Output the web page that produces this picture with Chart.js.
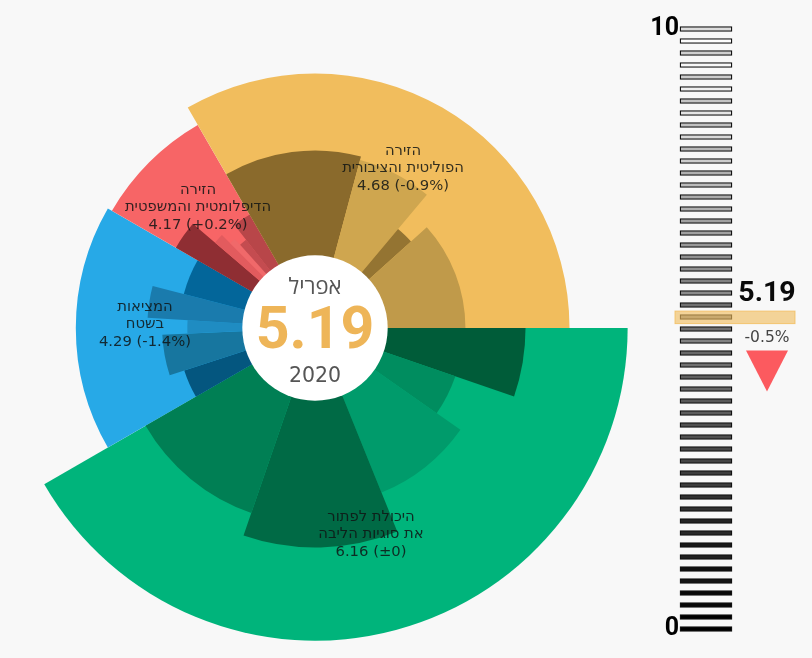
<!DOCTYPE html>
<html lang="he">
<head>
<meta charset="utf-8">
<title>מדד</title>
<script src="https://cdn.jsdelivr.net/npm/chart.js@4"></script>
<style>
  html, body { margin: 0; padding: 0; background: #f8f8f8; }
  canvas { position: absolute; top: 0; }
  #polar { left: 0; }
  #gauge { left: 630px; }
</style>
</head>
<body>
<canvas id="polar" width="630" height="656"></canvas>
<canvas id="gauge" width="182" height="658"></canvas>
<script>
// four arenas, clockwise from 3 o'clock
const arenaValues = [6.16, 4.29, 4.17, 4.68];
const arenaAngles = [150, 60, 30, 120];
const arenaColors = ["#00b47b", "#27a9e7", "#f76566", "#f1bd5d"];
const arenaLabels = [
  ["היכולת לפתור", "את סוגיות הליבה", "6.16 (±0)"],
  ["המציאות", "בשטח", "4.29 (-1.4%)"],
  ["הזירה", "הדיפלומטית והמשפטית", "4.17 (+0.2%)"],
  ["הזירה", "הפוליטית והציבורית", "4.68 (-0.9%)"],
];
const labelSpots = [[371, 517], [145, 307], [198, 190], [403, 151]];

// sub-measures inside each arena, same direction
const partValues = [
  3.56, 1.98, 2.72, 3.79, 3.18,
  1.7, 2.09, 1.45, 2.47, 1.65,
  2.29, 1.55, 1.25, 1.05, 1.53,
  2.72, 2.63, 1.49, 2.03,
];
const partAngles = [
  19, 16, 33, 41, 41,
  12, 15.5, 6, 11, 15.5,
  10.5, 4.5, 3, 4, 8,
  45, 25, 8, 42,
];
const partColors = [
  "#005c39", "#008d5f", "#009b6b", "#006a45", "#007f54",
  "#04567f", "#17769f", "#1f8cc2", "#1a7bad", "#03669a",
  "#8f2e33", "#e25b5e", "#f0696a", "#c44c50", "#b84649",
  "#8a6a2c", "#cfa64f", "#947432", "#c09a4a",
];

const gaugeTicks = [
  10, 9.8, 9.6, 9.4, 9.2, 9, 8.8, 8.6, 8.4, 8.2,
  8, 7.8, 7.6, 7.4, 7.2, 7, 6.8, 6.6, 6.4, 6.2,
  6, 5.8, 5.6, 5.4, 5.2, 5, 4.8, 4.6, 4.4, 4.2,
  4, 3.8, 3.6, 3.4, 3.2, 3, 2.8, 2.6, 2.4, 2.2,
  2, 1.8, 1.6, 1.4, 1.2, 1, 0.8, 0.6, 0.4, 0.2, 0,
];
const gaugeFills = [
  "#dcdcdc", "#fdfdfd", "#cfcfcf", "#f8f8f8", "#cccccc", "#f0f0f0", "#c4c4c4", "#e4e4e4", "#c0c0c0", "#d8d8d8",
  "#b8b8b8", "#cccccc", "#b0b0b0", "#bbbbbb", "#aaaaaa", "#b0b0b0", "#a0a0a0", "#a0a0a0", "#989898", "#909090",
  "#909090", "#808080", "#8a8a8a", "#707070", "#8a8a8a", "#707070", "#808080", "#686868", "#707070", "#606060",
  "#686868", "#585858", "#5c5c5c", "#505050", "#505050", "#484848", "#444444", "#3c3c3c", "#3c3c3c", "#303030",
  "#303030", "#242424", "#282828", "#181818", "#202020", "#101010", "#141414", "#080808", "#080808", "#000000", "#000000",
];

const overall = "5.19";
const overallChange = "-0.5%";
const month = "אפריל";
const year = "2020";

const hebrewFont = '"DejaVu Sans"';

function drawText(ctx, text, x, y, font, color, direction) {
  ctx.font = font;
  ctx.fillStyle = color;
  ctx.direction = direction || "ltr";
  ctx.textAlign = "center";
  ctx.textBaseline = "middle";
  ctx.fillText(text, x, y);
}

const polarOverlay = {
  id: "polarOverlay",
  afterDatasetsDraw(chart) {
    const ctx = chart.ctx;
    const scale = chart.scales.r;
    const cx = scale.xCenter;
    const cy = scale.yCenter;
    const hole = scale.getDistanceFromCenterForValue(0) + 2;

    ctx.save();
    arenaLabels.forEach((lines, i) => {
      lines.forEach((line, j) => {
        const dir = j === lines.length - 1 ? "ltr" : "rtl";
        drawText(ctx, line, labelSpots[i][0], labelSpots[i][1] + j * 17.5, "14.8px " + hebrewFont, "rgba(15,20,20,0.85)", dir);
      });
    });

    ctx.beginPath();
    ctx.arc(cx, cy, hole, 0, Math.PI * 2);
    ctx.fillStyle = "#ffffff";
    ctx.fill();

    drawText(ctx, month, cx, cy - 40, '22px "Open Sans"', "#555555", "rtl");
    drawText(ctx, overall, cx, cy + 5, "bold 59px Roboto", "#eeb558");
    drawText(ctx, year, cx, cy + 49, "20.5px " + hebrewFont, "#555555");
    ctx.restore();
  },
};

new Chart(document.getElementById("polar"), {
  type: "polarArea",
  data: {
    datasets: [
      { data: partValues, angle: (c) => partAngles[c.index], backgroundColor: partColors, borderWidth: 0 },
      { data: arenaValues, angle: (c) => arenaAngles[c.index], backgroundColor: arenaColors, borderWidth: 0 },
    ],
  },
  options: {
    responsive: false,
    animation: false,
    layout: { padding: 0 },
    plugins: { legend: { display: false }, tooltip: { enabled: false } },
    scales: {
      r: {
        min: -1.8,
        max: 6.22,
        startAngle: 90,
        grid: { display: false },
        angleLines: { display: false },
        ticks: { display: false },
        pointLabels: { display: false },
      },
    },
  },
  plugins: [polarOverlay],
});

const gaugeOverlay = {
  id: "gaugeOverlay",
  afterDatasetsDraw(chart) {
    const ctx = chart.ctx;
    const y = chart.scales.y.getPixelForValue(parseFloat(overall));
    const left = chart.chartArea.left;

    ctx.save();
    ctx.fillStyle = "rgba(241,189,93,0.62)";
    ctx.strokeStyle = "rgba(241,189,93,0.8)";
    ctx.fillRect(left - 5, y - 6.5, 120, 12.5);
    ctx.strokeRect(left - 5, y - 6.5, 120, 12.5);

    drawText(ctx, overall, 137, y - 24, "bold 28.5px Roboto", "#0a0a0a");
    drawText(ctx, overallChange, 137, y + 20.5, "15.5px " + hebrewFont, "#444444");

    ctx.beginPath();
    ctx.moveTo(116, y + 33);
    ctx.lineTo(158, y + 33);
    ctx.lineTo(137, y + 74);
    ctx.closePath();
    ctx.fillStyle = "#fc5a5f";
    ctx.fill();
    ctx.restore();
  },
};

new Chart(document.getElementById("gauge"), {
  type: "bar",
  data: {
    datasets: [
      {
        data: gaugeTicks.map((t) => ({ x: 1, y: t })),
        backgroundColor: gaugeFills,
        borderColor: "#111111",
        borderWidth: 1.3,
        borderSkipped: false,
        barThickness: 5,
        clip: false,
      },
    ],
  },
  options: {
    indexAxis: "y",
    responsive: false,
    animation: false,
    layout: { padding: { top: 29, bottom: 29, left: 0, right: 80 } },
    plugins: { legend: { display: false }, tooltip: { enabled: false } },
    scales: {
      x: { display: false, min: 0, max: 1 },
      y: {
        type: "linear",
        offset: false,
        min: 0,
        max: 10,
        afterFit(scale) {
          scale.width = 50;
        },
        grid: { display: false, drawTicks: false },
        border: { display: false },
        ticks: { stepSize: 10, padding: 1, color: "#000000", font: { family: "Roboto", weight: "bold", size: 25 } },
      },
    },
  },
  plugins: [gaugeOverlay],
});
</script>
</body>
</html>
